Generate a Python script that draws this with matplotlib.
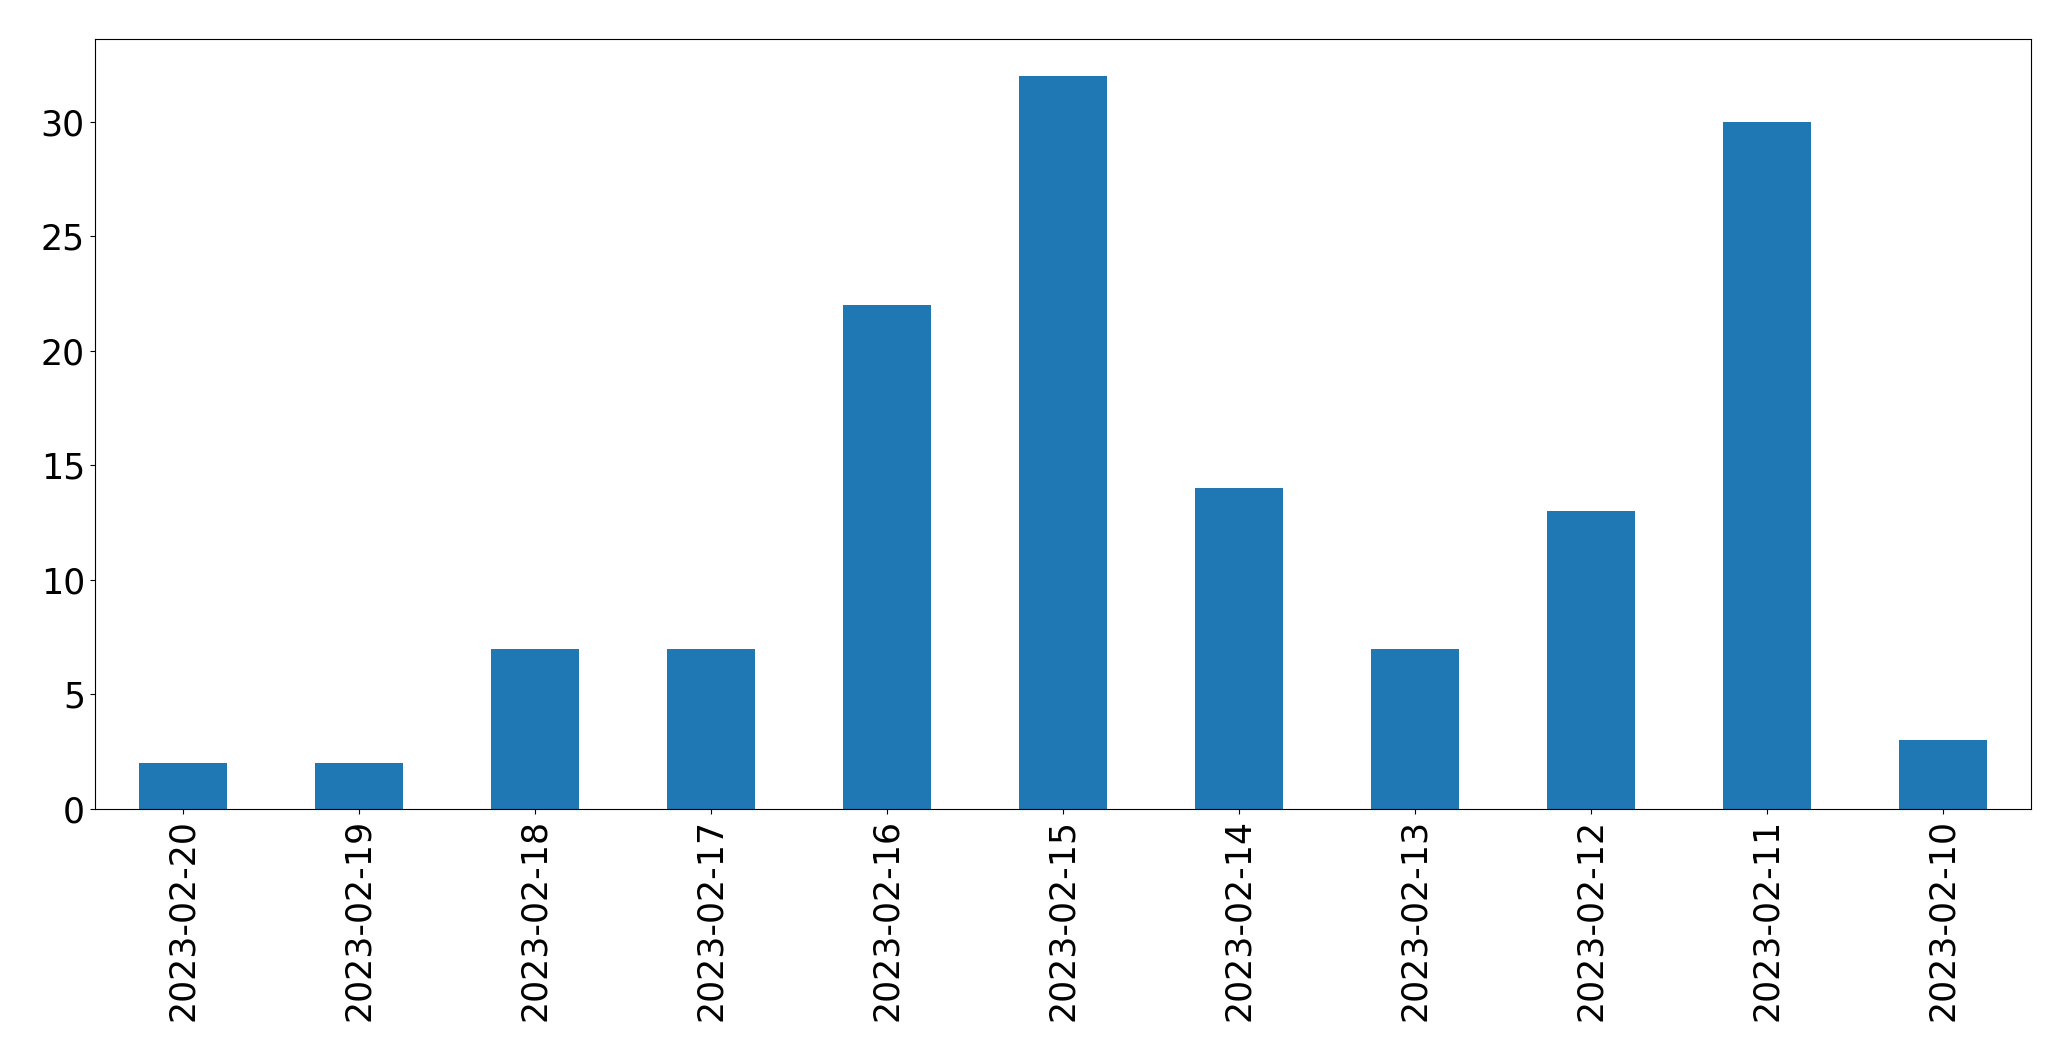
import matplotlib
matplotlib.use("Agg")
import matplotlib.pyplot as plt

dates = ["2023-02-20", "2023-02-19", "2023-02-18", "2023-02-17", "2023-02-16",
         "2023-02-15", "2023-02-14", "2023-02-13", "2023-02-12", "2023-02-11",
         "2023-02-10"]
counts = [2, 2, 7, 7, 22, 32, 14, 7, 13, 30, 3]

fig = plt.figure(figsize=(20.71, 10.61), dpi=100)
ax = fig.add_axes([0.0457, 0.2375, 0.935, 0.7255])
x = range(len(dates))
ax.bar(x, counts, width=0.5, color="#1f77b4")
ax.set_xticks(list(x))
ax.set_xticklabels(dates, rotation=90)
ax.set_xlim(-0.5, len(dates) - 0.5)
ax.set_ylim(0, max(counts) * 1.05)
ax.tick_params(labelsize=25)
fig.savefig("out.png", dpi=100)
